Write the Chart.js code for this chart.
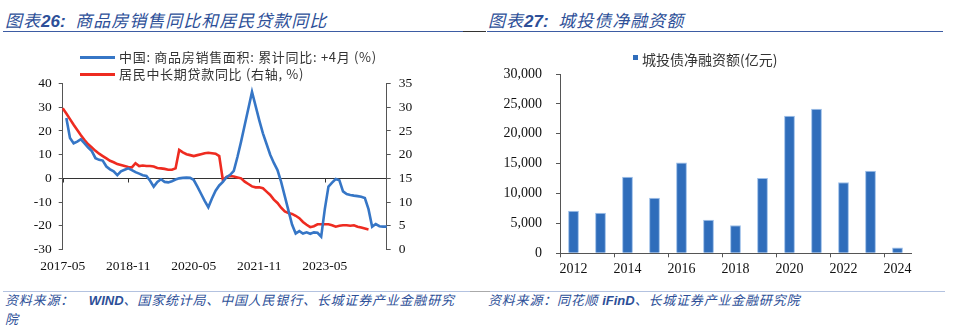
<!DOCTYPE html>
<html>
<head>
<meta charset="utf-8">
<script src="https://cdn.jsdelivr.net/npm/chart.js@4.4.1/dist/chart.umd.min.js"></script>
<style>
  html, body { margin: 0; padding: 0; background: #fff; }
  body { width: 960px; height: 327px; position: relative; overflow: hidden;
         font-family: 'Noto Sans CJK SC', 'Noto Sans', sans-serif; }
  .title { position: absolute; top: 9px; font-size: 17px; font-style: italic; color: #2d4f98;
           white-space: nowrap; line-height: 22px; letter-spacing: 1px; }
  .title b { font-family: 'Liberation Sans', Arial, sans-serif; font-weight: bold; letter-spacing: 0; }
  .rule { position: absolute; height: 1.5px; }
  .src { position: absolute; font-size: 13px; font-style: italic; color: #2d4f98;
         white-space: nowrap; line-height: 18px; letter-spacing: 0.8px; }
  .src b { font-family: 'Liberation Sans', Arial, sans-serif; letter-spacing: 0; }
  .box { position: absolute; }
  .leg { position: absolute; font-size: 13px; color: #333; letter-spacing: 0.7px;
         white-space: nowrap; line-height: 18px; }
  .leg i { position: absolute; left: -39px; top: 7.5px; width: 35px; height: 3px; }
  .barleg { position: absolute; font-size: 14px; color: #333; white-space: nowrap; line-height: 18px; }
  .barleg i { position: absolute; left: -9px; top: 5px; width: 5px; height: 5px; background: #2f6dbb; }
</style>
</head>
<body>

<div class="title" style="left:5px;">图表<b>26:</b>&nbsp; 商品房销售同比和居民贷款同比</div>
<div class="title" style="left:488px;">图表<b>27:</b>&nbsp; 城投债净融资额</div>
<div class="rule" style="left:3px; top:30.5px; width:460px; background:#3d5ca3;"></div>
<div class="rule" style="left:463px; top:30.5px; width:23px; background:#333;"></div>
<div class="rule" style="left:487px; top:30.5px; width:456px; background:#3d5ca3;"></div>

<div class="box" style="left:0; top:40px; width:440px; height:250px;">
  <canvas id="lineChart" width="440" height="250"></canvas>
</div>
<div class="leg" style="left:119px; top:48px;"><i style="background:#3676c6;"></i>中国: 商品房销售面积: 累计同比: +4月 (%)</div>
<div class="leg" style="left:119px; top:65px;"><i style="background:#ee2b20;"></i>居民中长期贷款同比 (右轴, %)</div>

<div class="box" style="left:480px; top:40px; width:480px; height:250px;">
  <canvas id="barChart" width="480" height="250"></canvas>
</div>
<div class="barleg" style="left:642px; top:50px;"><i></i>城投债净融资额(亿元)</div>

<div class="rule" style="left:3px; top:290.5px; width:467px; background:#b3c2e0;"></div>
<div class="rule" style="left:470px; top:290.5px; width:20px; background:#aaa;"></div>
<div class="rule" style="left:490px; top:290.5px; width:455px; background:#b3c2e0;"></div>
<div class="src" style="left:5px; top:291px;">资料来源：&nbsp;&nbsp;&nbsp; <b>WIND</b>、国家统计局、中国人民银行、长城证券产业金融研究<br>院</div>
<div class="src" style="left:488px; top:291px;">资料来源：同花顺 <b>iFinD</b>、长城证券产业金融研究院</div>

<script>
// Monthly axis, 2017-05 through 2024-10
const months = [];
for (let k = 0; k < 90; k++) {
  const yr = 2017 + Math.floor((4 + k) / 12);
  const mo = (4 + k) % 12 + 1;
  months.push(yr + '-' + String(mo).padStart(2, '0'));
}
const monthTickStep = 18;

// 中国: 商品房销售面积: 累计同比 (shifted +4 months), %
const salesYoY = [
  null, 25.5, 17.0, 14.8, 15.5, 16.5, 14.8, 13.0, 11.5, 8.5,
  7.8, 7.5, 5.0, 3.8, 3.0, 1.4, 3.0, 3.6, 4.2, 3.5,
  2.6, 2.0, 1.3, 1.0, -1.0, -3.5, -1.5, -0.4, -1.5, -1.7,
  -1.2, -0.5, 0.0, 0.2, 0.3, 0.2, -0.7, -3.5, -6.5, -9.5,
  -12.2, -8.5, -5.2, -3.0, -1.5, 0.5, 1.5, 3.2, 9.0, 15.5,
  22.5, 29.5, 36.5, 30.5, 24.5, 19.0, 14.5, 10.0, 6.5, 3.5,
  -1.5, -7.5, -13.5, -19.5, -23.3, -22.3, -23.3, -22.8, -23.4, -22.8,
  -23.0, -24.6, -13.0, -3.5, -1.8, -0.3, -0.8, -5.5, -6.6, -7.0,
  -7.3, -7.5, -7.8, -8.3, -13.0, -20.4, -19.3, -20.2, -20.4, -20.4
];

// 居民中长期贷款同比 (right axis), %
const loanYoY = [
  29.8, 28.7, 27.5, 26.3, 25.2, 24.1, 23.1, 22.2, 21.5, 20.8,
  20.2, 19.7, 19.2, 18.7, 18.4, 18.0, 17.8, 17.6, 17.4, 17.3,
  18.2, 17.6, 17.7, 17.6, 17.6, 17.5, 17.2, 17.1, 17.0, 16.8,
  16.8, 17.1, 21.0, 20.5, 20.1, 19.9, 19.7, 19.9, 20.1, 20.3,
  20.4, 20.3, 20.2, 19.7, 14.6, 15.3, 15.5, 15.4, 15.2, 15.0,
  14.3, 13.8, 13.3, 13.1, 13.1, 12.9, 12.2, 11.5, 10.5, 9.8,
  8.8, 8.0, 7.7, 7.5, 7.1, 6.6, 5.8, 5.2, 4.7, 4.9,
  5.3, 5.3, 5.3, 5.3, 5.1, 4.8, 5.0, 5.1, 5.1, 5.0,
  5.1, 4.8, 4.6, 4.4, 4.2, null, null, null, null, null
];

// 城投债净融资额, 亿元
const years = ['2012', '2013', '2014', '2015', '2016', '2017', '2018',
               '2019', '2020', '2021', '2022', '2023', '2024'];
const netFinancing = [7100, 6800, 12800, 9300, 15200, 5600, 4700,
                      12600, 23000, 24200, 11900, 13800, 950];

const serif = "'Liberation Serif', 'Times New Roman', serif";
const axisColor = '#555';

// short tick marks hanging below the zero line at each labelled month
const zeroLineTicks = {
  id: 'zeroLineTicks',
  beforeDatasetsDraw(chart) {
    const xs = chart.scales.x, ys = chart.scales.y;
    const y0 = Math.round(ys.getPixelForValue(0)) + 0.5;
    const ctx = chart.ctx;
    ctx.save();
    ctx.strokeStyle = '#333';
    ctx.lineWidth = 1;
    xs.ticks.forEach((t, i) => {
      const px = Math.round(xs.getPixelForTick(i)) + 0.5;
      ctx.beginPath();
      ctx.moveTo(px, y0);
      ctx.lineTo(px, y0 + 4);
      ctx.stroke();
    });
    ctx.restore();
  }
};

new Chart(document.getElementById('lineChart'), {
  type: 'line',
  data: {
    labels: months,
    datasets: [
      { label: '中国: 商品房销售面积: 累计同比: +4月 (%)', data: salesYoY, yAxisID: 'y',
        borderColor: '#3676c6', borderWidth: 2.6, pointRadius: 0, tension: 0 },
      { label: '居民中长期贷款同比 (右轴, %)', data: loanYoY, yAxisID: 'y1',
        borderColor: '#ee2b20', borderWidth: 2.6, pointRadius: 0, tension: 0 }
    ]
  },
  options: {
    animation: false,
    responsive: false,
    layout: { padding: { top: 43.6, left: 0, right: 0, bottom: 0 } },
    plugins: { legend: { display: false }, tooltip: { enabled: false } },
    scales: {
      x: {
        type: 'category',
        offset: false,
        grid: { display: false, drawTicks: false },
        border: { display: false },
        ticks: { autoSkip: false, maxRotation: 0, minRotation: 0, padding: 9,
                 color: '#111', font: { family: serif, size: 13.5 } },
        afterBuildTicks: s => { s.ticks = s.ticks.filter(t => t.value % monthTickStep === 0); },
        afterFit: s => { s.height = 40.6; }
      },
      y: {
        position: 'left',
        min: -30, max: 40,
        ticks: { stepSize: 10, padding: 7, color: '#111', font: { family: serif, size: 13.5 } },
        grid: {
          color: c => (c.tick && c.tick.value === 0) ? '#333' : 'rgba(0,0,0,0)',
          tickColor: axisColor, tickLength: 4, lineWidth: 1
        },
        border: { color: axisColor },
        afterFit: s => { s.width = 62.7; }
      },
      y1: {
        position: 'right',
        min: 0, max: 35,
        ticks: { stepSize: 5, padding: 8, color: '#111', font: { family: serif, size: 13.5 } },
        grid: { drawOnChartArea: false, tickColor: axisColor, tickLength: 4 },
        border: { color: axisColor },
        afterFit: s => { s.width = 53.3; }
      }
    }
  },
  plugins: [zeroLineTicks]
});

new Chart(document.getElementById('barChart'), {
  type: 'bar',
  data: {
    labels: years,
    datasets: [
      { label: '城投债净融资额(亿元)', data: netFinancing,
        backgroundColor: '#2f6dbb', borderColor: '#9dbfe9', borderWidth: 1,
        barPercentage: 1, categoryPercentage: 0.4 }
    ]
  },
  options: {
    animation: false,
    responsive: false,
    layout: { padding: { top: 34, left: 0, right: 49, bottom: 0 } },
    plugins: { legend: { display: false }, tooltip: { enabled: false } },
    scales: {
      x: {
        offset: true,
        grid: {
          drawOnChartArea: false, offset: true, tickLength: 4,
          tickColor: c => (c.index !== undefined && c.index % 2 === 0) ? axisColor : 'rgba(0,0,0,0)'
        },
        border: { color: axisColor },
        ticks: { autoSkip: false, maxRotation: 0, minRotation: 0, padding: 4,
                 color: '#111', font: { family: serif, size: 14 },
                 callback: (v, i) => (i % 2 === 0 ? years[i] : '') },
        afterFit: s => { s.height = 36.7; }
      },
      y: {
        min: 0, max: 30000,
        ticks: { stepSize: 5000, padding: 14, color: '#111', font: { family: serif, size: 14 },
                 callback: v => v.toLocaleString('en-US') },
        grid: { drawOnChartArea: false, tickColor: axisColor, tickLength: 4 },
        border: { color: axisColor },
        afterFit: s => { s.width = 80; }
      }
    }
  }
});
</script>
</body>
</html>
